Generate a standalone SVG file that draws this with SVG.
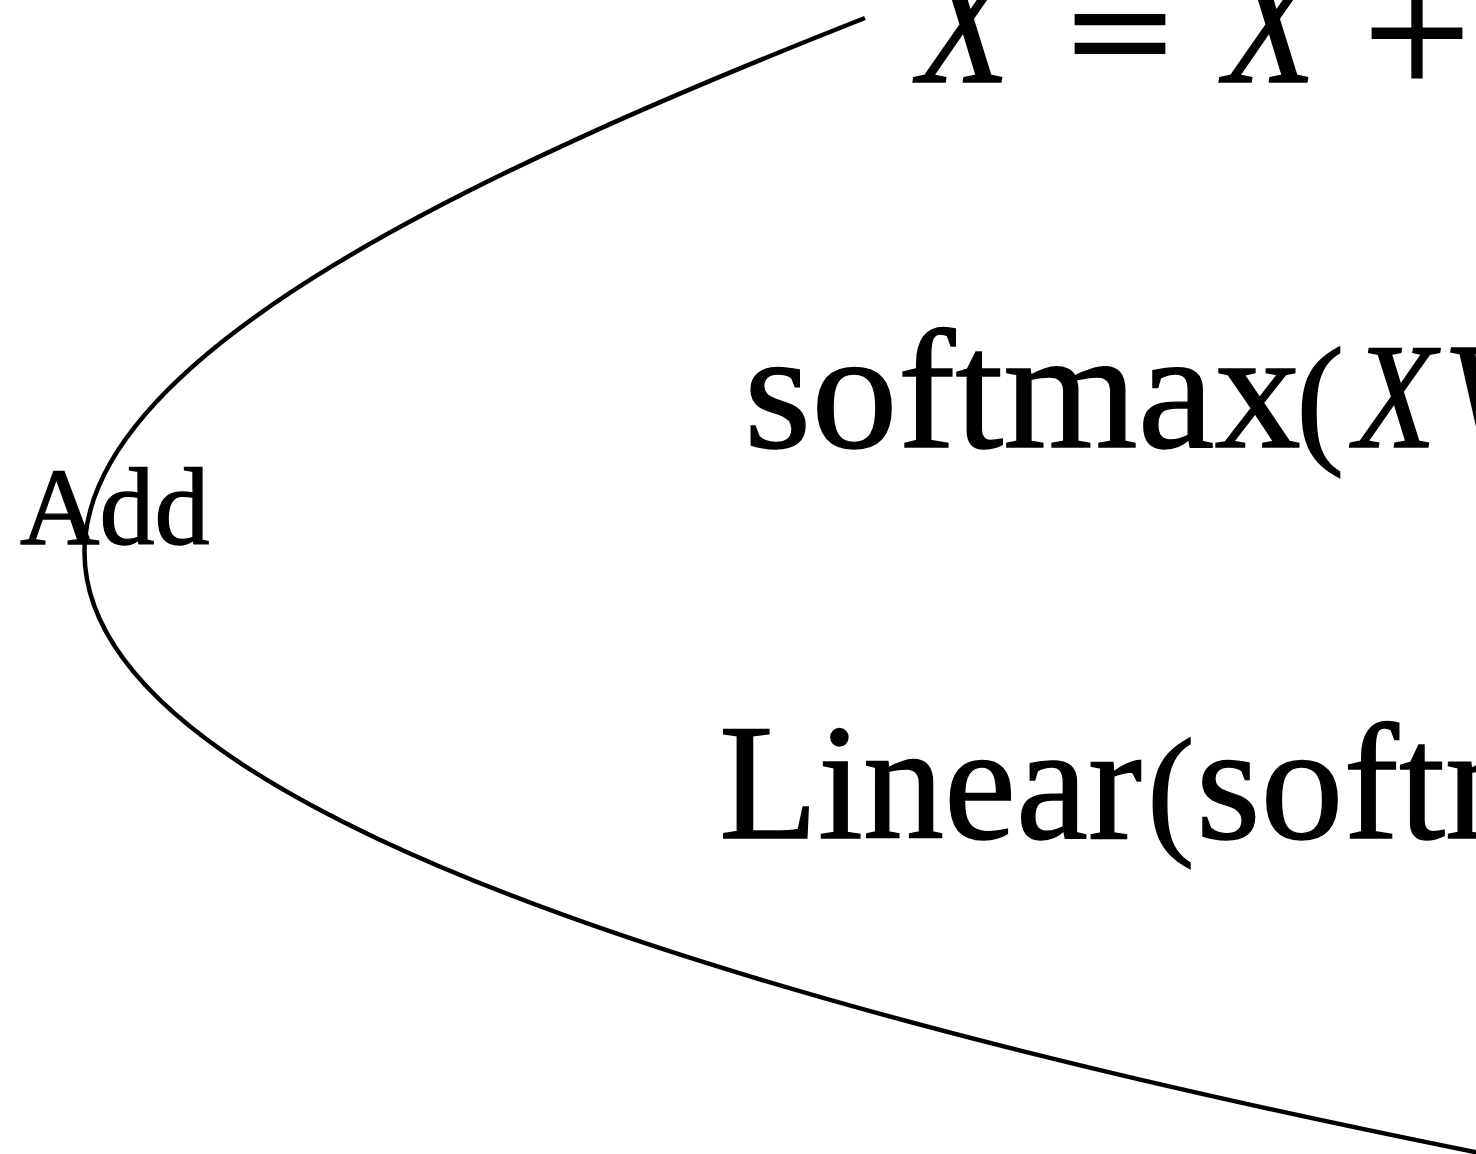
<svg xmlns="http://www.w3.org/2000/svg" width="1476" height="1154" viewBox="0 0 1476 1154">
<style>
.t{font-family:"Liberation Serif","Times New Roman",serif;fill:#000;stroke:#000;stroke-width:1.4}
.i{font-style:italic}
.m{font-family:"DejaVu Serif",serif;fill:#000}
.c{fill:none;stroke:#000;stroke-width:4.5}
</style>
<rect width="1476" height="1154" fill="#fff"/>
<g id="connectors">
<path class="c" d="M865,18 C93,322 -648,727 1480,1153"/>
</g>
<g id="node-update">
<text class="t i" x="918" y="82" font-size="172" textLength="92" lengthAdjust="spacingAndGlyphs">X</text>
<text class="m" x="1120" y="79" font-size="145" text-anchor="middle">=</text>
<text class="t i" x="1224" y="82" font-size="172" textLength="92" lengthAdjust="spacingAndGlyphs">X</text>
<text class="m" x="1417" y="79" font-size="145" text-anchor="middle">+</text>
</g>
<g id="node-softmax">
<text class="t" x="744" y="447" font-size="170" textLength="557" lengthAdjust="spacingAndGlyphs">softmax</text>
<text class="t" x="1296" y="447" font-size="145">(</text>
<text class="t i" x="1354" y="447" font-size="150" textLength="82" lengthAdjust="spacingAndGlyphs">X</text>
<text class="t i" x="1443" y="447" font-size="150">V</text>
</g>
<g id="node-linear">
<text class="t" x="719" y="838" font-size="166" textLength="423" lengthAdjust="spacingAndGlyphs">Linear</text>
<text class="t" x="1147" y="838" font-size="143">(</text>
<text class="t" x="1196" y="838" font-size="166">softm</text>
</g>
<g id="node-add">
<text class="t" x="20" y="544" font-size="110">Add</text>
</g>
</svg>
